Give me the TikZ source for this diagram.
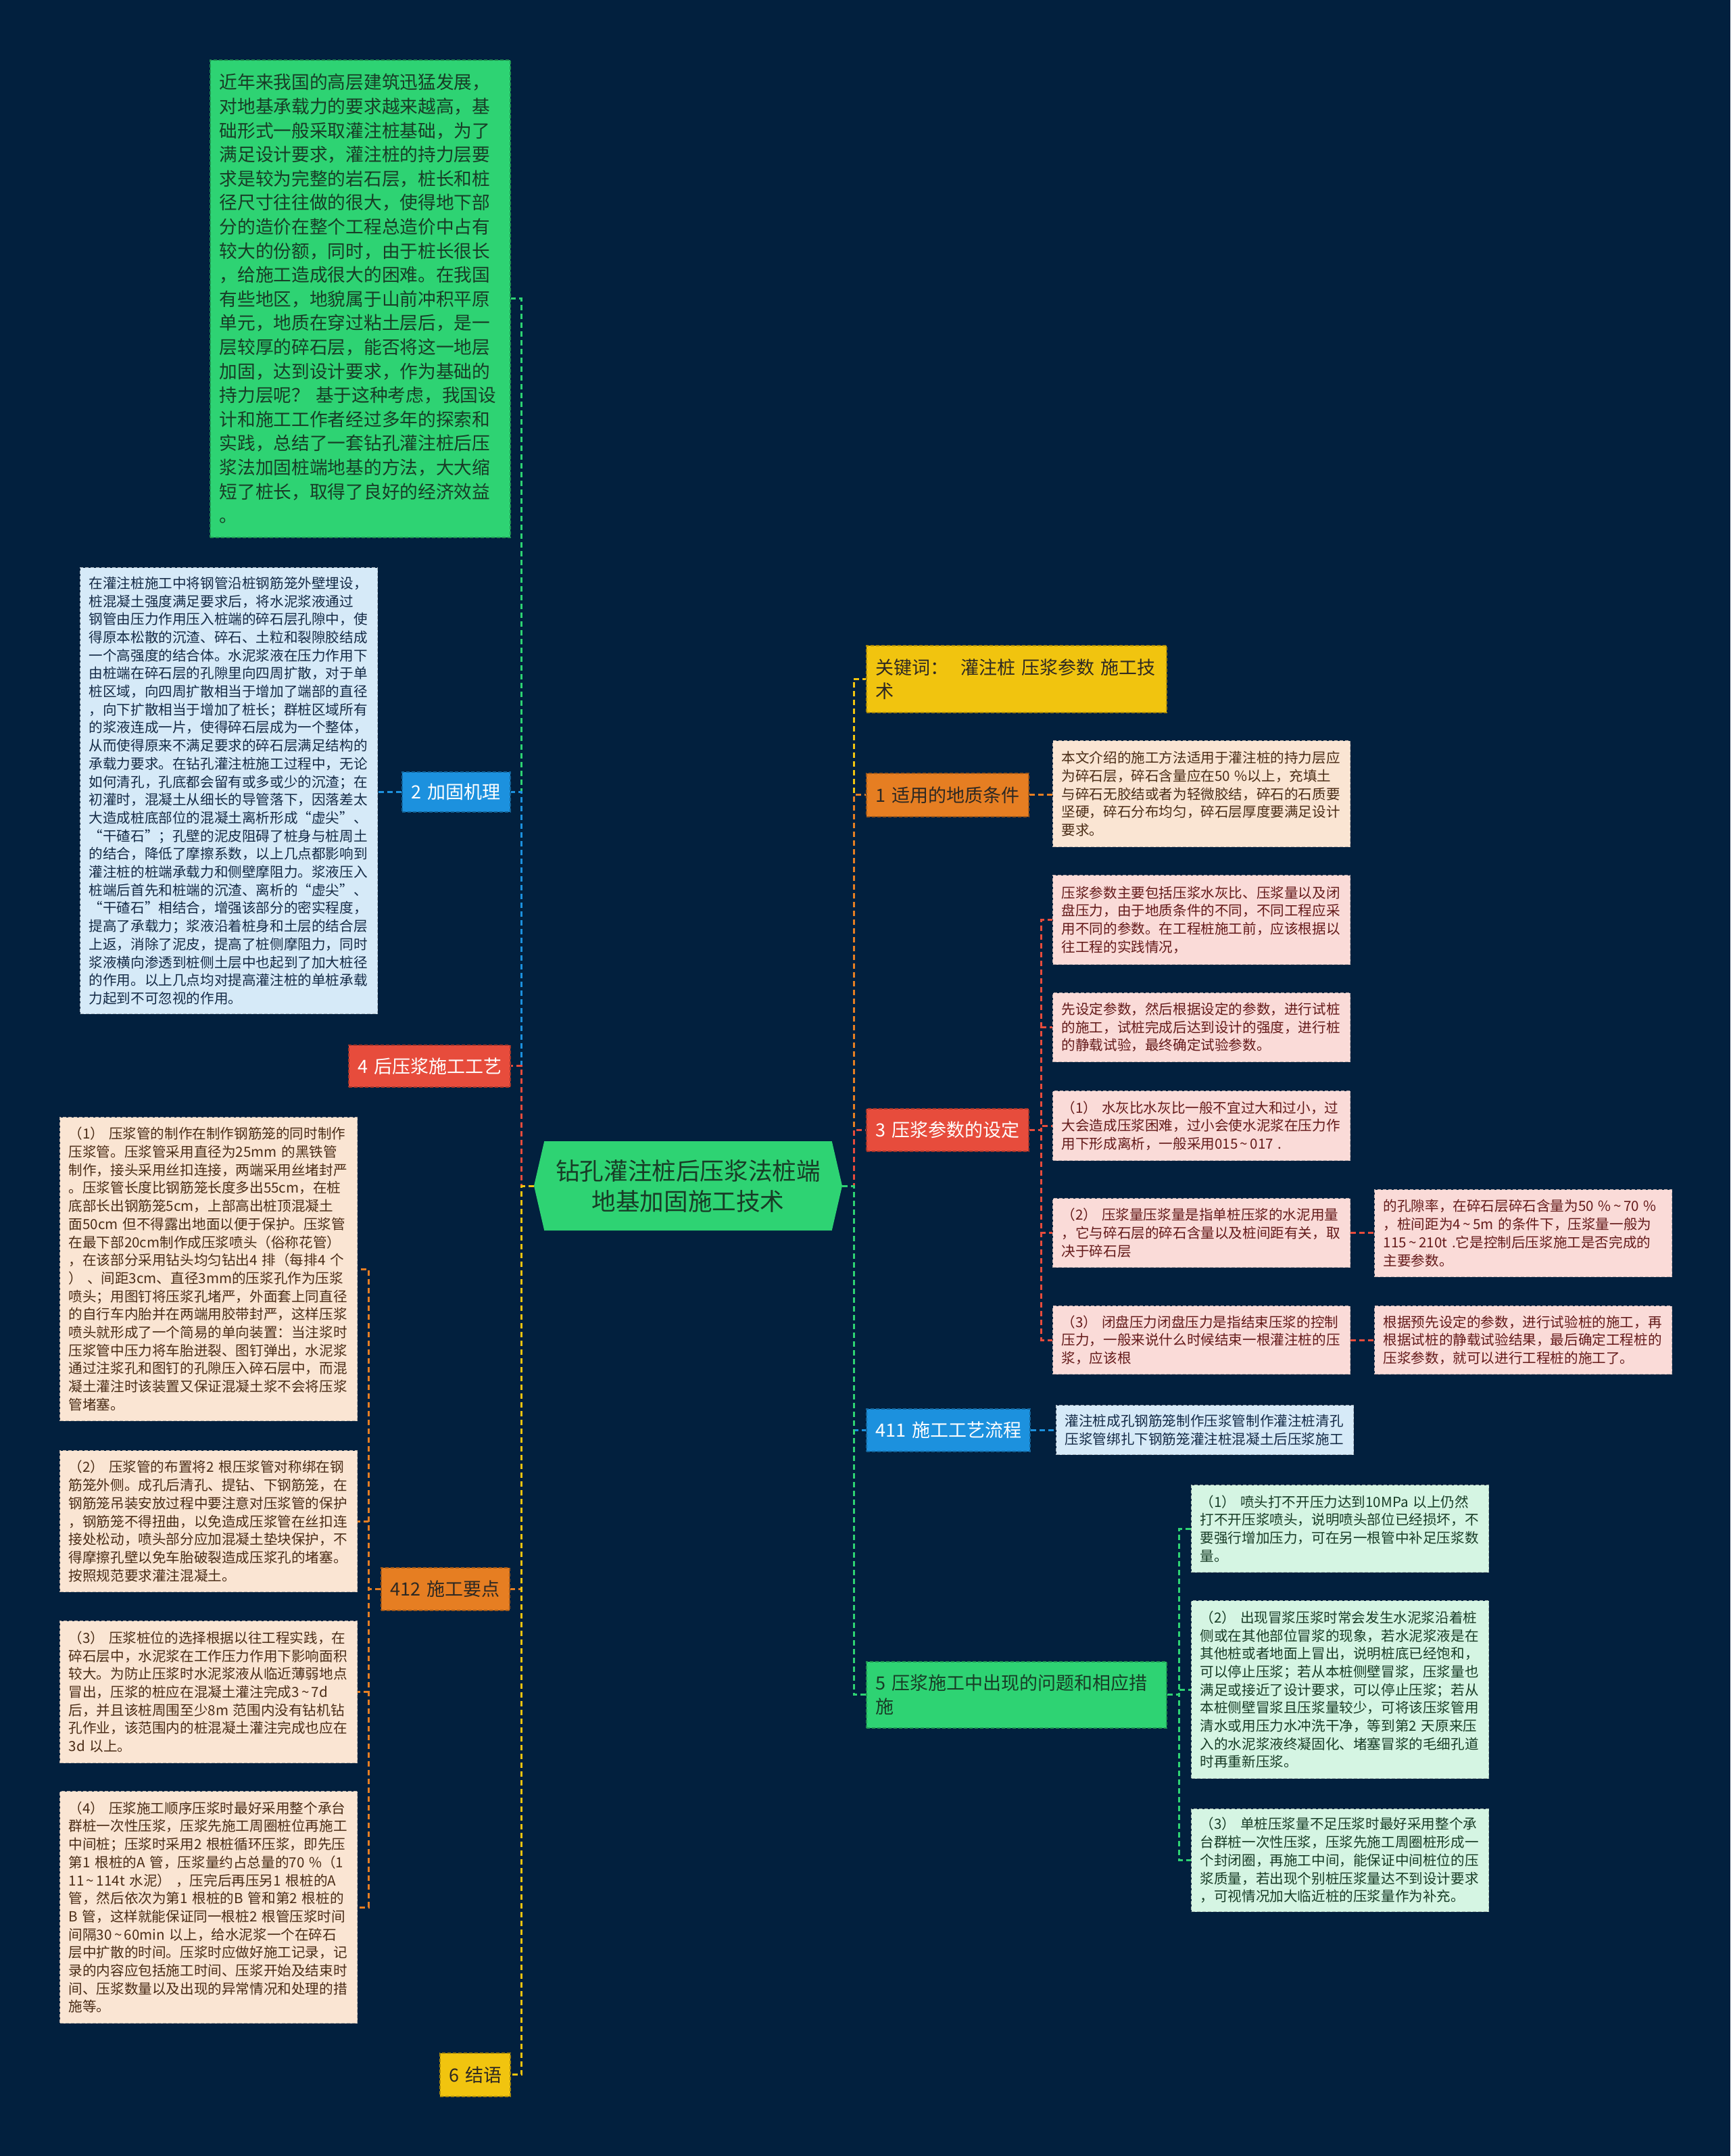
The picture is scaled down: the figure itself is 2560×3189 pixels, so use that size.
\documentclass[tikz,border=0pt]{standalone}
\usepackage{fontspec}
\setmainfont{Noto Sans CJK SC}
\usetikzlibrary{shapes.symbols}

\newcommand{\wave}{\,\textasciitilde\,}

\definecolor{bgnavy}{RGB}{2,32,62}
\definecolor{mgreen}{RGB}{46,211,115}
\definecolor{mblue}{RGB}{28,145,222}
\definecolor{mred}{RGB}{231,76,60}
\definecolor{morange}{RGB}{230,126,34}
\definecolor{myellow}{RGB}{241,196,15}
\definecolor{lpeach}{RGB}{250,229,211}
\definecolor{lpink}{RGB}{250,219,216}
\definecolor{lblue}{RGB}{214,234,248}
\definecolor{lgreen}{RGB}{213,245,227}
\definecolor{tgreen}{RGB}{24,60,38}
\definecolor{tbrown}{RGB}{74,44,22}
\definecolor{tmaroon}{RGB}{100,26,26}
\definecolor{tnavy}{RGB}{20,42,70}
\definecolor{tdark}{RGB}{45,40,35}

\tikzset{
  root/.style={shape=signal, signal to=east and west, signal pointer angle=154,
    fill=mgreen, text=tgreen, align=center, inner sep=0pt,
    minimum width=456pt, minimum height=132pt,
    font=\fontsize{35.6pt}{45pt}\selectfont},
  topic/.style={rectangle, anchor=north west, inner xsep=14pt, inner ysep=0pt, align=left,
    font=\fontsize{27pt}{35pt}\selectfont, line width=1.5pt, dash pattern=on 5pt off 3pt},
  greentopic/.style={topic, fill=mgreen, draw=mgreen!70!black, text=tgreen},
  bluetopic/.style={topic, fill=mblue, draw=mblue!70!black, text=white},
  redtopic/.style={topic, fill=mred, draw=mred!70!black, text=white},
  orangetopic/.style={topic, fill=morange, draw=morange!70!black, text=tdark},
  yellowtopic/.style={topic, fill=myellow, draw=myellow!70!black, text=tdark},
  leaf/.style={rectangle, anchor=north west, inner xsep=13pt, inner ysep=0pt, align=left,
    text width=414pt, font=\fontsize{20.6pt}{26.7pt}\selectfont,
    line width=1.2pt, dash pattern=on 5pt off 3pt},
  peachleaf/.style={leaf, fill=lpeach, draw=lpeach!55!gray, text=tbrown},
  pinkleaf/.style={leaf, fill=lpink, draw=lpink!55!gray, text=tmaroon},
  blueleaf/.style={leaf, fill=lblue, draw=lblue!55!gray, text=tnavy},
  greenleaf/.style={leaf, fill=lgreen, draw=lgreen!55!gray, text=tgreen},
  link/.style={line width=3pt, dash pattern=on 8pt off 5pt}
}

\begin{document}
\begin{tikzpicture}[x=1pt,y=-1pt]
\fill[bgnavy] (0,0) rectangle (2560,3189);
\useasboundingbox (0,0) rectangle (2560,3189);

%%% ROOT %%%
\node[root] (root) at (1018,1754) {钻孔灌注桩后压浆法桩端\\地基加固施工技术};

%%% LEFT BRANCHES %%%
\node[greentopic, minimum width=444pt, minimum height=706pt, text width=416pt,
  font=\fontsize{26.7pt}{35.6pt}\selectfont] (intro) at (310,88)
  {近年来我国的高层建筑迅猛发展，\\
   对地基承载力的要求越来越高，基\\
   础形式一般采取灌注桩基础，为了\\
   满足设计要求，灌注桩的持力层要\\
   求是较为完整的岩石层，桩长和桩\\
   径尺寸往往做的很大，使得地下部\\
   分的造价在整个工程总造价中占有\\
   较大的份额，同时，由于桩长很长\\
   ，给施工造成很大的困难。在我国\\
   有些地区，地貌属于山前冲积平原\\
   单元，地质在穿过粘土层后，是一\\
   层较厚的碎石层，能否将这一地层\\
   加固，达到设计要求，作为基础的\\
   持力层呢？~基于这种考虑，我国设\\
   计和施工工作者经过多年的探索和\\
   实践，总结了一套钻孔灌注桩后压\\
   浆法加固桩端地基的方法，大大缩\\
   短了桩长，取得了良好的经济效益\\
   。};
\node[bluetopic, minimum width=160pt, minimum height=59pt, text width=132pt] (L2) at (594,1141) {2~加固机理};
\node[blueleaf, minimum height=660pt] (mech) at (118,839)
  {在灌注桩施工中将钢管沿桩钢筋笼外壁埋设，\\
   桩混凝土强度满足要求后，将水泥浆液通过\\
   钢管由压力作用压入桩端的碎石层孔隙中，使\\
   得原本松散的沉渣、碎石、土粒和裂隙胶结成\\
   一个高强度的结合体。水泥浆液在压力作用下\\
   由桩端在碎石层的孔隙里向四周扩散，对于单\\
   桩区域，向四周扩散相当于增加了端部的直径\\
   ，向下扩散相当于增加了桩长；群桩区域所有\\
   的浆液连成一片，使得碎石层成为一个整体，\\
   从而使得原来不满足要求的碎石层满足结构的\\
   承载力要求。在钻孔灌注桩施工过程中，无论\\
   如何清孔，孔底都会留有或多或少的沉渣；在\\
   初灌时，混凝土从细长的导管落下，因落差太\\
   大造成桩底部位的混凝土离析形成“虚尖”、\\
   “干碴石”；孔壁的泥皮阻碍了桩身与桩周土\\
   的结合，降低了摩擦系数，以上几点都影响到\\
   灌注桩的桩端承载力和侧壁摩阻力。浆液压入\\
   桩端后首先和桩端的沉渣、离析的“虚尖”、\\
   “干碴石”相结合，增强该部分的密实程度，\\
   提高了承载力；浆液沿着桩身和土层的结合层\\
   上返，消除了泥皮，提高了桩侧摩阻力，同时\\
   浆液横向渗透到桩侧土层中也起到了加大桩径\\
   的作用。以上几点均对提高灌注桩的单桩承载\\
   力起到不可忽视的作用。};
\node[redtopic, minimum width=239pt, minimum height=62pt, text width=211pt] (L4) at (515,1545) {4~后压浆施工工艺};
\node[orangetopic, minimum width=190pt, minimum height=63pt, text width=162pt] (L412) at (563,2318) {412~施工要点};
\node[yellowtopic, minimum width=104pt, minimum height=64pt, text width=76pt] (L6) at (650,3036) {6~结语};

% children of 412
\node[peachleaf, minimum height=449pt] (p1) at (88,1652)
  {（1）~压浆管的制作在制作钢筋笼的同时制作\\
   压浆管。压浆管采用直径为25mm~的黑铁管\\
   制作，接头采用丝扣连接，两端采用丝堵封严\\
   。压浆管长度比钢筋笼长度多出55cm，在桩\\
   底部长出钢筋笼5cm，上部高出桩顶混凝土\\
   面50cm~但不得露出地面以便于保护。压浆管\\
   在最下部20cm制作成压浆喷头（俗称花管）\\
   ，在该部分采用钻头均匀钻出4~排（每排4~个\\
   ）~、间距3cm、直径3mm的压浆孔作为压浆\\
   喷头；用图钉将压浆孔堵严，外面套上同直径\\
   的自行车内胎并在两端用胶带封严，这样压浆\\
   喷头就形成了一个简易的单向装置：当注浆时\\
   压浆管中压力将车胎迸裂、图钉弹出，水泥浆\\
   通过注浆孔和图钉的孔隙压入碎石层中，而混\\
   凝土灌注时该装置又保证混凝土浆不会将压浆\\
   管堵塞。};
\node[peachleaf, minimum height=209pt] (p2) at (88,2145)
  {（2）~压浆管的布置将2~根压浆管对称绑在钢\\
   筋笼外侧。成孔后清孔、提钻、下钢筋笼，在\\
   钢筋笼吊装安放过程中要注意对压浆管的保护\\
   ，钢筋笼不得扭曲，以免造成压浆管在丝扣连\\
   接处松动，喷头部分应加混凝土垫块保护，不\\
   得摩擦孔壁以免车胎破裂造成压浆孔的堵塞。\\
   按照规范要求灌注混凝土。};
\node[peachleaf, minimum height=210pt] (p3) at (88,2397)
  {（3）~压浆桩位的选择根据以往工程实践，在\\
   碎石层中，水泥浆在工作压力作用下影响面积\\
   较大。为防止压浆时水泥浆液从临近薄弱地点\\
   冒出，压浆的桩应在混凝土灌注完成3\wave 7d\\
   后，并且该桩周围至少8m~范围内没有钻机钻\\
   孔作业，该范围内的桩混凝土灌注完成也应在\\
   3d~以上。};
\node[peachleaf, minimum height=343pt] (p4) at (88,2649)
  {（4）~压浆施工顺序压浆时最好采用整个承台\\
   群桩一次性压浆，压浆先施工周圈桩位再施工\\
   中间桩；压浆时采用2~根桩循环压浆，即先压\\
   第1~根桩的A~管，压浆量约占总量的70~\%（1\\
   11\wave 114t~水泥）~，压完后再压另1~根桩的A\\
   管，然后依次为第1~根桩的B~管和第2~根桩的\\
   B~管，这样就能保证同一根桩2~根管压浆时间\\
   间隔30\wave 60min~以上，给水泥浆一个在碎石\\
   层中扩散的时间。压浆时应做好施工记录，记\\
   录的内容应包括施工时间、压浆开始及结束时\\
   间、压浆数量以及出现的异常情况和处理的措\\
   施等。};

%%% RIGHT BRANCHES %%%
\node[yellowtopic, minimum width=444pt, minimum height=99pt, text width=416pt] (kw) at (1281,954) {关键词：~~灌注桩~压浆参数~施工技\\术};
\node[orangetopic, minimum width=240pt, minimum height=64pt, text width=212pt] (L1) at (1281,1143) {1~适用的地质条件};
\node[peachleaf, minimum height=157pt] (geo) at (1557,1095)
  {本文介绍的施工方法适用于灌注桩的持力层应\\
   为碎石层，碎石含量应在50~\%以上，充填土\\
   与碎石无胶结或者为轻微胶结，碎石的石质要\\
   坚硬，碎石分布均匀，碎石层厚度要满足设计\\
   要求。};
\node[redtopic, minimum width=240pt, minimum height=63pt, text width=212pt] (L3) at (1281,1639) {3~压浆参数的设定};

% children of 3
\node[pinkleaf, minimum height=132pt] (pa) at (1557,1294)
  {压浆参数主要包括压浆水灰比、压浆量以及闭\\
   盘压力，由于地质条件的不同，不同工程应采\\
   用不同的参数。在工程桩施工前，应该根据以\\
   往工程的实践情况，};
\node[pinkleaf, minimum height=102pt] (pb) at (1557,1468)
  {先设定参数，然后根据设定的参数，进行试桩\\
   的施工，试桩完成后达到设计的强度，进行桩\\
   的静载试验，最终确定试验参数。};
\node[pinkleaf, minimum height=103pt] (pc) at (1557,1613)
  {（1）~水灰比水灰比一般不宜过大和过小，过\\
   大会造成压浆困难，过小会使水泥浆在压力作\\
   用下形成离析，一般采用015\wave 017~.};
\node[pinkleaf, minimum height=102pt] (pd) at (1557,1772)
  {（2）~压浆量压浆量是指单桩压浆的水泥用量\\
   ，它与碎石层的碎石含量以及桩间距有关，取\\
   决于碎石层};
\node[pinkleaf, minimum height=101pt] (pe) at (1557,1931)
  {（3）~闭盘压力闭盘压力是指结束压浆的控制\\
   压力，一般来说什么时候结束一根灌注桩的压\\
   浆，应该根};
\node[pinkleaf, minimum height=129pt] (pd2) at (2033,1759)
  {的孔隙率，在碎石层碎石含量为50~\%\wave 70~\%\\
   ，桩间距为4\wave 5m~的条件下，压浆量一般为\\
   115\wave 210t~.它是控制后压浆施工是否完成的\\
   主要参数。};
\node[pinkleaf, minimum height=101pt] (pe2) at (2033,1931)
  {根据预先设定的参数，进行试验桩的施工，再\\
   根据试桩的静载试验结果，最后确定工程桩的\\
   压浆参数，就可以进行工程桩的施工了。};

\node[bluetopic, minimum width=242pt, minimum height=63pt, text width=214pt] (L411) at (1281,2083) {411~施工工艺流程};
\node[blueleaf, minimum height=73pt] (flow) at (1562,2078)
  {灌注桩成孔钢筋笼制作压浆管制作灌注桩清孔\\
   压浆管绑扎下钢筋笼灌注桩混凝土后压浆施工};

\node[greentopic, minimum width=444pt, minimum height=98pt, text width=416pt] (L5) at (1281,2457) {5~压浆施工中出现的问题和相应措\\施};

% children of 5
\node[greenleaf, minimum height=129pt] (qa) at (1762,2196)
  {（1）~喷头打不开压力达到10MPa~以上仍然\\
   打不开压浆喷头，说明喷头部位已经损坏，不\\
   要强行增加压力，可在另一根管中补足压浆数\\
   量。};
\node[greenleaf, minimum height=263pt] (qb) at (1762,2367)
  {（2）~出现冒浆压浆时常会发生水泥浆沿着桩\\
   侧或在其他部位冒浆的现象，若水泥浆液是在\\
   其他桩或者地面上冒出，说明桩底已经饱和，\\
   可以停止压浆；若从本桩侧壁冒浆，压浆量也\\
   满足或接近了设计要求，可以停止压浆；若从\\
   本桩侧壁冒浆且压浆量较少，可将该压浆管用\\
   清水或用压力水冲洗干净，等到第2~天原来压\\
   入的水泥浆液终凝固化、堵塞冒浆的毛细孔道\\
   时再重新压浆。};
\node[greenleaf, minimum height=152pt] (qc) at (1762,2675)
  {（3）~单桩压浆量不足压浆时最好采用整个承\\
   台群桩一次性压浆，压浆先施工周圈桩形成一\\
   个封闭圈，再施工中间，能保证中间桩位的压\\
   浆质量，若出现个别桩压浆量达不到设计要求\\
   ，可视情况加大临近桩的压浆量作为补充。};

%%% CONNECTORS %%%
\coordinate (lspine) at ([xshift=-18pt]root.west);
\coordinate (rspine) at ([xshift=17pt]root.east);
\coordinate (kspine) at ([xshift=-18pt]L412.west);
\coordinate (pspine) at ([xshift=18pt]L3.east);
\coordinate (qspine) at ([xshift=18pt]L5.east);
% left side, top to bottom
\draw[link, mgreen] (root.west) -- (lspine) |- (intro.east);
\draw[link, mblue] (root.west) -- (lspine) |- (L2.east);
\draw[link, mred] (root.west) -- (lspine) |- (L4.east);
\draw[link, morange] (root.west) -- (lspine) |- (L412.east);
\draw[link, myellow] (root.west) -- (lspine) |- (L6.east);
% right side, top to bottom
\draw[link, myellow] (root.east) -- (rspine) |- (kw.west);
\draw[link, morange] (root.east) -- (rspine) |- (L1.west);
\draw[link, mred] (root.east) -- (rspine) |- (L3.west);
\draw[link, mblue] (root.east) -- (rspine) |- (L411.west);
\draw[link, mgreen] (root.east) -- (rspine) |- (L5.west);
% second level
\draw[link, mblue] (L2.west) -- (L2.west -| mech.east);
\foreach \n in {p1,p2,p3,p4}
  \draw[link, morange] (L412.west) -- (kspine) |- (\n.east);
\draw[link, morange] (L1.east) -- (L1.east -| geo.west);
\foreach \n in {pa,pb,pc,pd,pe}
  \draw[link, mred] (L3.east) -- (pspine) |- (\n.west);
\draw[link, mred] (pd.east) -- (pd.east -| pd2.west);
\draw[link, mred] (pe.east) -- (pe.east -| pe2.west);
\draw[link, mblue] (L411.east) -- (L411.east -| flow.west);
\foreach \n in {qa,qb,qc}
  \draw[link, mgreen] (L5.east) -- (qspine) |- (\n.west);
\end{tikzpicture}
\end{document}
